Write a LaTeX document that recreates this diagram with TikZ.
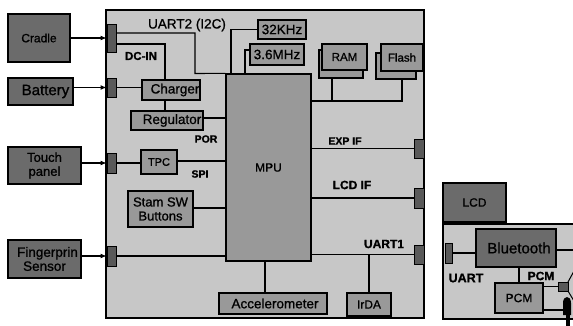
\documentclass[tikz,border=0pt]{standalone}
\usepackage{fontspec}
\setmainfont{Liberation Sans}[FakeBold=1]
\tikzset{
  board/.style={draw,line width=1.3pt,fill=black!22,inner sep=0pt,anchor=north west},
  extbox/.style={draw,line width=1.3pt,fill=black!58,inner sep=0pt,align=center},
  chipbox/.style={draw,line width=1.3pt,fill=black!40,inner sep=0pt,align=center},
  conn/.style={draw,line width=.6pt,fill=black!65,inner sep=0pt},
  wire/.style={line width=1.1pt},
  inlet/.style={line width=1.1pt,-latex},
  lbl/.style={inner sep=0pt},
  fs/.style={font=\fontsize{#1}{14}\selectfont}
}
\newcommand{\boxat}[7]{\node[#1,minimum width=#4pt-#2pt,minimum height=#5pt-#3pt] (#6) at ({(#2+#4)/2},{(#3+#5)/2}) {#7};}
\begin{document}
\begin{tikzpicture}[x=1pt,y=-1pt,font=\fontsize{12}{14}\selectfont]
\useasboundingbox[fill=white] (0,0) rectangle (573,326);

% boards
\boxat{board,anchor=center}{106}{10}{424}{318}{main}{}
\boxat{board,anchor=center}{443}{224}{590}{319}{btboard}{}

% outside
\boxat{extbox}{8}{14}{70}{62}{cradle}{Cradle}
\boxat{extbox,fs=15}{8}{78}{73}{105}{battery}{\hspace*{10pt}Battery}
\boxat{extbox,fs=13}{8}{147}{81}{184}{touch}{Touch\\panel}
\boxat{extbox,fs=13.5}{8}{240}{81}{278}{finger}{\hspace*{6pt}Fingerprin\\Sensor}
\boxat{extbox}{443}{183}{506}{222}{lcd}{LCD}

% connectors
\boxat{conn}{107}{24}{116}{52}{cradlec}{}
\boxat{conn}{107}{78}{116}{97}{batteryc}{}
\boxat{conn}{107}{153}{116}{173}{touchc}{}
\boxat{conn}{107}{246}{116}{266}{fingerc}{}
\boxat{conn}{414}{139}{424}{158}{expc}{}
\boxat{conn}{414}{188}{424}{208}{lcdc}{}
\boxat{conn}{414}{245}{424}{264}{uartc}{}
\boxat{conn}{445}{243}{452}{263}{btc}{}

% chips
\boxat{chipbox}{226}{74}{311}{261}{mpu}{MPU}
\boxat{chipbox,fs=13.5}{142}{80}{200}{100}{charger}{\hspace*{8pt}Charger}
\boxat{chipbox,fs=13.5}{131}{111}{203}{130}{regulator}{\hspace*{10pt}Regulator}
\boxat{chipbox,fs=11}{141}{150}{177}{174}{tpc}{TPC}
\boxat{chipbox,fs=13}{128}{191}{193}{227}{stam}{Stam SW\\Buttons}
\boxat{chipbox,fs=13.5}{219}{293}{327}{314}{accel}{\hspace*{4pt}Accelerometer}
\boxat{chipbox}{347}{293}{391}{316}{irda}{IrDA}
\boxat{chipbox,fs=13.5}{258}{20}{306}{39}{khz}{32KHz}
\boxat{chipbox,fs=13.5}{250}{44}{304}{65}{mhz}{3.6MHz}
\boxat{chipbox}{319}{50}{363}{78}{ramb}{}
\boxat{chipbox,fs=11.5}{322}{44}{367}{70}{ram}{RAM}
\boxat{chipbox}{376}{53}{416}{79}{flashb}{}
\boxat{chipbox,fs=11.5}{381}{44}{423}{71}{flash}{Flash}
\boxat{extbox,fs=15}{476}{229}{556}{267}{bluetooth}{\hspace*{6pt}Bluetooth}
\boxat{chipbox}{495}{283}{543}{313}{pcm}{PCM}
\boxat{conn}{558}{282}{568}{291}{spkbox}{}

% free ends
\coordinate (busend) at (311,101);
\coordinate (off) at (573,250);
\coordinate (mic) at (563,310);

% speaker and mic
\draw[line width=1pt] (568,282) -- (574,271) (568,291) -- (574,301);
\fill (563,303) .. controls (563,295) and (571,295) .. (571,303) -- (571,315) -- (563,315) -- cycle;
\fill (566,315) rectangle (569.5,326);

% wires
\draw[inlet] (cradle.east|-cradlec) -- (cradlec);
\draw[inlet] (battery.east|-batteryc) -- (batteryc);
\draw[inlet] (touch.east|-touchc) -- (touchc);
\draw[inlet] (finger.east|-fingerc) -- (fingerc);
\draw[wire] (cradlec.east|-0,33) -| (195,73.5) -- (mpu.north west);
\draw[wire] (cradlec.east|-0,44) -| (charger.north-|165,0);
\draw[wire] (batteryc) -- (charger.west|-batteryc);
\draw[wire] (charger.south-|165,0) -- (regulator.north-|165,0);
\draw[wire] (regulator.east|-0,118) -- (mpu.west|-0,118);
\draw[wire] (touchc) -- (tpc.west|-touchc);
\draw[wire] (tpc.east|-0,161) -- (mpu.west|-0,161);
\draw[wire] (stam.east|-0,208) -- (mpu.west|-0,208);
\draw[wire] (fingerc) -- (mpu.west|-fingerc);
\draw[wire] (khz.west) -| (mpu.north-|231,0);
\draw[wire] (mhz.west|-0,50) -| (mpu.north-|245,0);
\draw[wire] (mpu.east|-busend) -| (flashb.south-|402,0);
\draw[wire] (ramb.south-|332,0) -- (332,101);
\draw[wire] (mpu.east|-expc) -- (expc);
\draw[wire] (mpu.east|-lcdc) -- (lcdc);
\draw[wire] (mpu.east|-uartc) -- (uartc);
\draw[wire] (mpu.south-|265,0) -- (accel.north-|265,0);
\draw[wire] (369,255) -- (irda.north);
\draw[wire] (btc) -- (bluetooth.west|-btc);
\draw[wire] (bluetooth.east|-off) -- (off);
\draw[wire] (bluetooth.south-|519,0) -- (pcm.north-|519,0);
\draw[wire] (pcm.east|-spkbox) -- (spkbox);
\draw[wire] (pcm.east|-mic) -- (mic);

% labels
\node[lbl,fs=13.5] (uart2) at (187,25) {UART2 (I2C)};
\node[lbl,fs=11.5] (dcin) at (141,56) {\bfseries DC-IN};
\node[lbl,fs=10.5] (por) at (206,139) {\bfseries POR};
\node[lbl,fs=10.5] (spi) at (200,174) {\bfseries SPI};
\node[lbl,fs=10.5] (expif) at (345,141) {\bfseries EXP IF};
\node[lbl] (lcdif) at (352,185) {\bfseries LCD IF};
\node[lbl] (uart1) at (384,244) {\bfseries UART1};
\node[lbl,fs=12.5] (uart) at (466,278) {\bfseries UART};
\node[lbl] (pcml) at (541,276) {\bfseries PCM};
\end{tikzpicture}
\end{document}
